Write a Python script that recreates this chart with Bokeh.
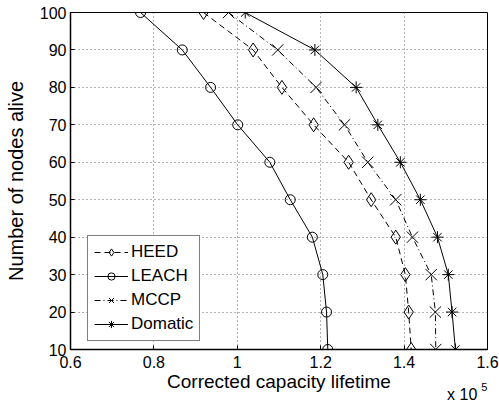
from bokeh.plotting import figure
from bokeh.models import Range1d, Legend, LegendItem, FixedTicker
from bokeh.core.properties import value
from bokeh.embed import file_html
from bokeh.resources import INLINE

# Data (x in units of 10^5)
nodes = [100, 90, 80, 70, 60, 50, 40, 30, 20, 10]
heed = [0.919, 1.038, 1.107, 1.183, 1.267, 1.321, 1.380, 1.403, 1.411, 1.417]
leach = [0.768, 0.868, 0.936, 1.001, 1.078, 1.127, 1.180, 1.205, 1.214, 1.217]
mccp = [0.979, 1.097, 1.189, 1.257, 1.313, 1.380, 1.420, 1.465, 1.475, 1.476]
domatic = [1.019, 1.186, 1.285, 1.337, 1.391, 1.439, 1.480, 1.506, 1.515, 1.523]
x_ticks = [0.6, 0.8, 1.0, 1.2, 1.4, 1.6]
y_ticks = [10, 20, 30, 40, 50, 60, 70, 80, 90, 100]
scale_text = "x 10"
scale_exp = "5"

FONT = "Liberation Sans"

p = figure(width=499, height=402, output_backend="svg", toolbar_location=None,
           x_range=Range1d(0.6, 1.6), y_range=Range1d(10, 100),
           min_border_left=70, min_border_right=12, min_border_top=12, min_border_bottom=53)

p.xaxis.ticker = FixedTicker(ticks=x_ticks)
p.yaxis.ticker = FixedTicker(ticks=y_ticks)
p.xaxis.major_label_overrides = {0.6: "0.6", 0.8: "0.8", 1.0: "1", 1.2: "1.2", 1.4: "1.4", 1.6: "1.6"}

for ax in (p.xaxis, p.yaxis):
    ax.major_tick_in = 4
    ax.major_tick_out = 0
    ax.minor_tick_line_color = None
    ax.axis_line_color = "black"
    ax.axis_line_width = 1.5
    ax.major_tick_line_color = "black"
    ax.major_label_text_font = FONT
    ax.major_label_text_font_size = "16px"
    ax.major_label_text_color = "black"
    ax.axis_label_text_font = FONT
    ax.axis_label_text_font_style = "normal"
    ax.axis_label_text_color = "black"

p.xaxis.axis_label_text_font_size = "19px"
p.yaxis.axis_label_text_font_size = "20px"
p.xaxis.major_label_standoff = 6
p.yaxis.major_label_standoff = 4
p.xaxis.axis_label = "Corrected capacity lifetime"
p.yaxis.axis_label = "Number of nodes alive"
p.xaxis.axis_label_standoff = 0
p.yaxis.axis_label_standoff = 10

p.grid.grid_line_color = "#666666"
p.grid.grid_line_dash = "1 3"
p.grid.grid_line_width = 1
p.outline_line_color = "black"
p.outline_line_width = 1

lw = 1
r1l = p.line(heed, nodes, line_color="black", line_width=lw, line_dash="6 4")
r1m = p.scatter(heed, nodes, marker="diamond", size=14, line_color="black", fill_alpha=0, line_width=lw)
r2l = p.line(leach, nodes, line_color="black", line_width=lw)
r2m = p.scatter(leach, nodes, marker="circle", size=10, line_color="black", fill_alpha=0, line_width=lw)
r3l = p.line(mccp, nodes, line_color="black", line_width=lw, line_dash="6 3 1 3")
r3m = p.scatter(mccp, nodes, marker="x", size=16, line_color="black", line_width=lw)
r4l = p.line(domatic, nodes, line_color="black", line_width=lw)
r4m = p.scatter(domatic, nodes, marker="asterisk", size=12, line_color="black", line_width=lw)

legend = Legend(items=[
    LegendItem(label="HEED", renderers=[r1l, r1m]),
    LegendItem(label="LEACH", renderers=[r2l, r2m]),
    LegendItem(label="MCCP", renderers=[r3l, r3m]),
    LegendItem(label="Domatic", renderers=[r4l, r4m]),
], location=(17, 8))
legend.label_text_font = FONT
legend.label_text_font_size = "17px"
legend.label_text_color = "black"
legend.border_line_color = "black"
legend.border_line_width = 1
legend.background_fill_color = "white"
legend.background_fill_alpha = 1
legend.glyph_width = 34
legend.glyph_height = 18
legend.label_height = 18
legend.label_standoff = 3
legend.spacing = 4
legend.padding = 6
legend.margin = 0
p.add_layout(legend, "center")

# "x 10^5" multiplier note: anchored at the bottom of the x range, offset below the axis
p.text(x=[1.503], y=[10.01], text=[scale_text], x_offset=0, y_offset=45, level="overlay",
       text_font=value(FONT), text_font_size="16px", text_color="black",
       text_baseline="alphabetic", text_align="left")
p.text(x=[1.585], y=[10.01], text=[scale_exp], x_offset=0, y_offset=38, level="overlay",
       text_font=value(FONT), text_font_size="11px", text_color="black",
       text_baseline="alphabetic", text_align="left")

open("out.html", "w").write(file_html(p, INLINE))
